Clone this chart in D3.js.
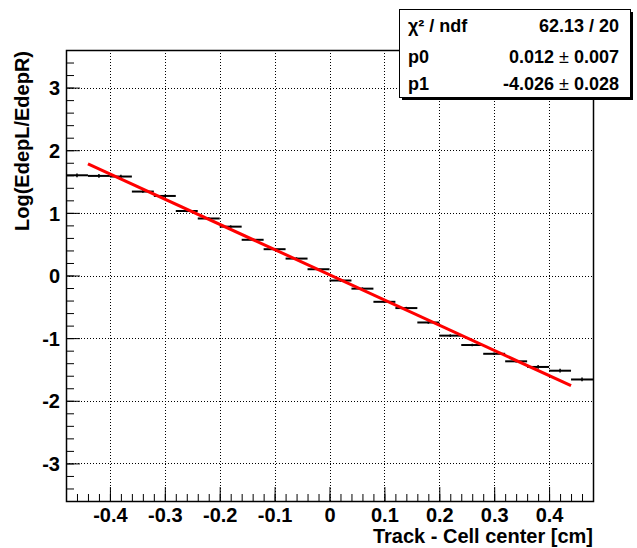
<!DOCTYPE html>
<html>
<head>
<meta charset="utf-8">
<script src="https://cdn.jsdelivr.net/npm/d3@7"></script>
<style>
  body { margin: 0; background: #fff; }
  svg { display: block; font-family: "Liberation Sans", Arial, Helvetica, sans-serif; font-weight: bold; }
</style>
</head>
<body>
<div id="chart"></div>
<script>
// bin centres and contents
var xVals = [-0.46, -0.42, -0.38, -0.34, -0.30, -0.26, -0.22, -0.18, -0.14, -0.10, -0.06, -0.02,
              0.02,  0.06,  0.10,  0.14,  0.18,  0.22,  0.26,  0.30,  0.34,  0.38,  0.42,  0.46];
var yVals = [1.60, 1.59, 1.58, 1.34, 1.27, 1.03, 0.91, 0.78, 0.57, 0.42, 0.27, 0.10,
             -0.08, -0.21, -0.42, -0.52, -0.75, -0.96, -1.11, -1.25, -1.37, -1.46, -1.52, -1.66];
var yErrs = [0.03, 0.03, 0.03, 0.02, 0.02, 0.02, 0.02, 0.02, 0.02, 0.02, 0.02, 0.02,
             0.02, 0.02, 0.02, 0.02, 0.02, 0.02, 0.02, 0.02, 0.02, 0.03, 0.03, 0.03];
var binHalf = 0.02;

// pol1 fit
var fitP0 = 0.012, fitP1 = -4.026;
var fitRange = [-0.44, 0.44];

var xMajor = [-0.4, -0.3, -0.2, -0.1, 0, 0.1, 0.2, 0.3, 0.4];
var yMajor = [-3, -2, -1, 0, 1, 2, 3];

var statNames = ["\u03c7\u00b2 / ndf", "p0", "p1"];
var statVals = [["62.13 / 20"], ["0.012", "0.007"], ["-4.026", "0.028"]];

var width = 637, height = 548;
var frame = {left: 66, right: 593, top: 50, bottom: 501};

// plain hyphen for negatives, like ROOT
function fmt(d) { return String(+d.toFixed(1)); }

var svg = d3.select("#chart").append("svg")
    .attr("width", width)
    .attr("height", height);

var x = d3.scaleLinear().domain([-0.48, 0.48]).range([frame.left, frame.right]);
var y = d3.scaleLinear().domain([-3.6, 3.6]).range([frame.bottom, frame.top]);

// grid
var grid = svg.append("g").attr("stroke", "#000").attr("stroke-width", 1)
    .attr("stroke-dasharray", "1,2");
grid.selectAll("line.gx").data(xMajor).enter().append("line")
    .attr("x1", function(d) { return Math.round(x(d)) + 0.5; })
    .attr("x2", function(d) { return Math.round(x(d)) + 0.5; })
    .attr("y1", frame.top).attr("y2", frame.bottom);
grid.selectAll("line.gy").data(yMajor).enter().append("line")
    .attr("y1", function(d) { return Math.round(y(d)) + 0.5; })
    .attr("y2", function(d) { return Math.round(y(d)) + 0.5; })
    .attr("x1", frame.left).attr("x2", frame.right);

// minor ticks
var xMinor = d3.range(-0.46, 0.4801, 0.02);
var yMinor = d3.range(-3.4, 3.601, 0.2);

svg.append("g")
    .attr("transform", "translate(0," + frame.bottom + ")")
    .call(d3.axisBottom(x).tickValues(xMinor).tickSize(-7).tickFormat(""))
    .call(function(g) { g.select(".domain").remove(); });
svg.append("g")
    .attr("transform", "translate(" + frame.left + ",0)")
    .call(d3.axisLeft(y).tickValues(yMinor).tickSize(-8).tickFormat(""))
    .call(function(g) { g.select(".domain").remove(); });

// major ticks + labels
var xAxis = svg.append("g")
    .attr("transform", "translate(0," + frame.bottom + ")")
    .call(d3.axisBottom(x).tickValues(xMajor).tickSize(-14).tickPadding(21).tickFormat(fmt));
xAxis.select(".domain").remove();
xAxis.selectAll("text").attr("font-size", 20).attr("font-family", null)
    .attr("dy", 0).attr("fill", "#000");

var yAxis = svg.append("g")
    .attr("transform", "translate(" + frame.left + ",0)")
    .call(d3.axisLeft(y).tickValues(yMajor).tickSize(-14).tickPadding(6).tickFormat(fmt));
yAxis.select(".domain").remove();
yAxis.selectAll("text").attr("font-size", 20).attr("font-family", null)
    .attr("dy", "0.36em").attr("fill", "#000");
svg.selectAll(".tick line").attr("stroke", "#000").attr("stroke-width", 1);

// frame
svg.append("rect")
    .attr("x", frame.left + 0.5).attr("y", frame.top + 0.5)
    .attr("width", frame.right - frame.left).attr("height", frame.bottom - frame.top)
    .attr("fill", "none").attr("stroke", "#000").attr("stroke-width", 1.5);

// axis titles
svg.append("text")
    .attr("x", frame.right).attr("y", 543)
    .attr("text-anchor", "end").attr("font-size", 20)
    .text("Track - Cell center [cm]");
svg.append("text")
    .attr("transform", "translate(29," + (frame.top + 1) + ") rotate(-90)")
    .attr("text-anchor", "end").attr("font-size", 20)
    .text("Log(EdepL/EdepR)");

// data points with errors
var pts = svg.append("g").attr("stroke", "#000").attr("stroke-width", 2);
var data = xVals.map(function(v, i) { return {x: v, y: yVals[i], e: yErrs[i]}; });
pts.selectAll("line.h").data(data).enter().append("line")
    .attr("x1", function(d) { return x(d.x - binHalf); })
    .attr("x2", function(d) { return x(d.x + binHalf); })
    .attr("y1", function(d) { return y(d.y); })
    .attr("y2", function(d) { return y(d.y); });
pts.selectAll("line.v").data(data).enter().append("line")
    .attr("stroke-width", 1.5)
    .attr("x1", function(d) { return x(d.x); })
    .attr("x2", function(d) { return x(d.x); })
    .attr("y1", function(d) { return y(d.y + d.e); })
    .attr("y2", function(d) { return y(d.y - d.e); });

// fit line
var fitLine = d3.line()
    .x(function(d) { return x(d); })
    .y(function(d) { return y(fitP0 + fitP1 * d); });
svg.append("path")
    .datum(fitRange)
    .attr("d", fitLine)
    .attr("fill", "none").attr("stroke", "#ff0000").attr("stroke-width", 3);

// stats box
var box = {x: 399, y: 9, w: 231, h: 88};
svg.append("rect")
    .attr("x", box.x + 3).attr("y", box.y + 3).attr("width", box.w).attr("height", box.h)
    .attr("fill", "#000");
svg.append("rect")
    .attr("x", box.x + 0.5).attr("y", box.y + 0.5).attr("width", box.w).attr("height", box.h)
    .attr("fill", "#fff").attr("stroke", "#000").attr("stroke-width", 1);

var rowY = [32, 63, 90];
statNames.forEach(function(n, i) {
    svg.append("text")
        .attr("x", box.x + 9).attr("y", rowY[i])
        .attr("font-size", 18)
        .text(n);
    var t = svg.append("text")
        .attr("x", box.x + box.w - 11).attr("y", rowY[i])
        .attr("text-anchor", "end").attr("font-size", 18);
    var v = statVals[i];
    t.append("tspan").text(v[0]);
    if (v.length > 1) {
        t.append("tspan").attr("font-weight", "normal").text(" \u00b1 ");
        t.append("tspan").text(v[1]);
    }
});
</script>
</body>
</html>
